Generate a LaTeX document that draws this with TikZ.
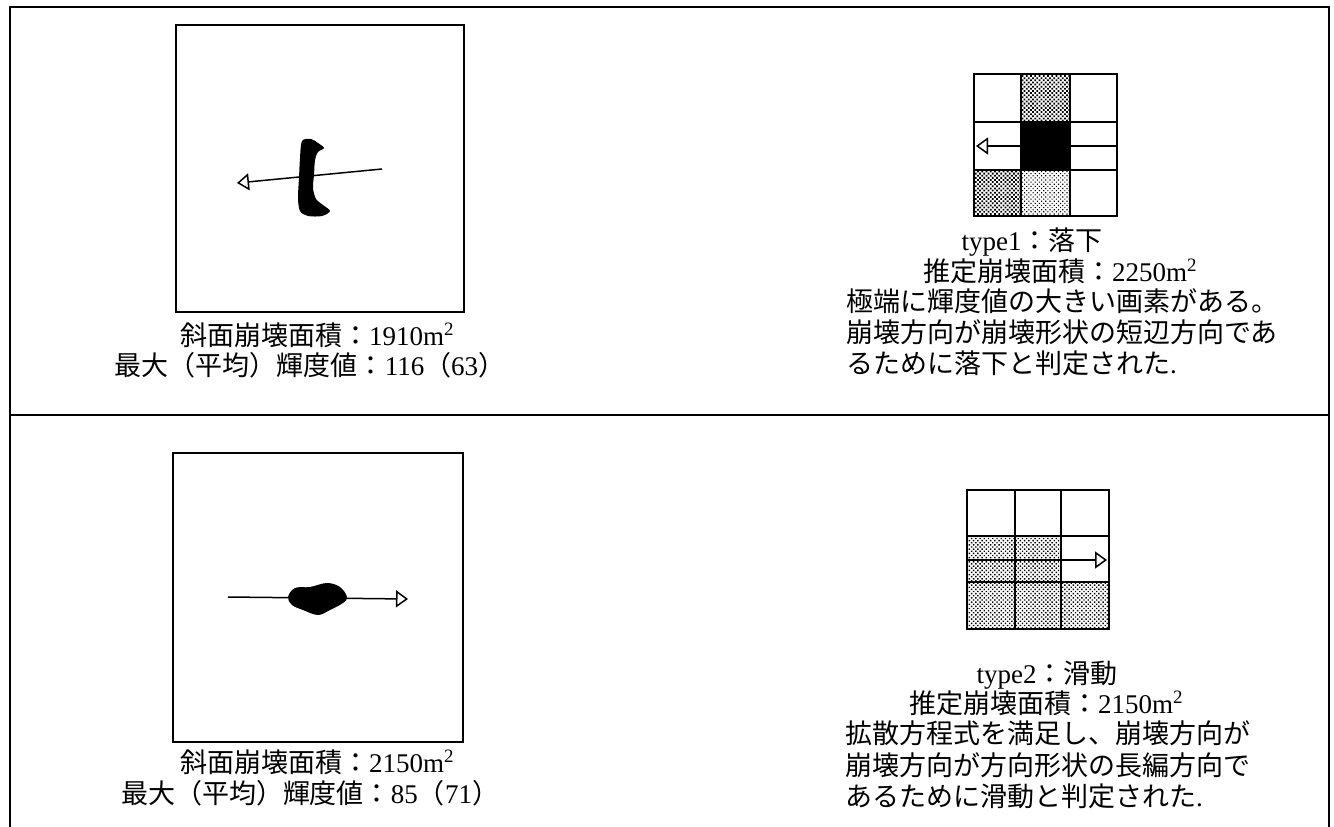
\documentclass[tikz,border=0pt]{standalone}
\usepackage{fontspec}
\setmainfont{Liberation Serif}
\newfontfamily\jpfont{Noto Sans CJK JP}
\newcommand\J[1]{{\jpfont #1}}
\usetikzlibrary{arrows.meta,patterns.meta}
\begin{document}
\begin{tikzpicture}[x=1pt,y=-1pt,
  frame/.style={line width=2pt},
  imgbox/.style={line width=1.5pt},
  cell/.style={draw,line width=2.4pt},
  dark/.style={pattern={Dots[distance=3pt,radius=1.25pt,angle=45]},pattern color=black},
  light/.style={pattern={Dots[distance=3pt,radius=0.8pt,angle=45]},pattern color=black},
  mid/.style={pattern={Dots[distance=3pt,radius=1.0pt,angle=45]},pattern color=black},
  dirarrow/.style={line width=1.5pt,-{Triangle[open,length=12pt,width=17pt]}},
  txt/.style={inner sep=0pt,font=\fontsize{27}{31}\selectfont},
]
\useasboundingbox (0,0) rectangle (1334,827);
\clip (0,0) rectangle (1334,827);
\fill[white] (0,0) rectangle (1334,827);

% outer frame
\draw[frame] (10,840) -- (10,7) -- (1329,7) -- (1329,840);
\draw[frame] (10,415) -- (1329,415);

% ---------- top row ----------
\draw[imgbox] (176,25) rectangle (464,312);
\fill[black] plot[smooth cycle,tension=0.5] coordinates {(302,141) (311,139) (318,143) (324,148) (318,152) (315,160) (314,175) (313,188) (316,199) (323,205) (330,211) (322,216) (308,216) (300,211) (298,198) (299,178) (300,158)};
\coordinate (a1s) at (382,169);
\coordinate (a1e) at (237,183);
\draw[dirarrow] (a1s) -- (a1e);

\node[txt,anchor=base] (t1a) at (317,345) {\J{斜面崩壊面積：}1910m\textsuperscript{2}};
\node[txt,anchor=base] (t1b) at (310,375) {\J{最大（平均）輝度値：}116\J{（}63\J{）}};

% grid 1
\path[cell,fill=white] (974,74) rectangle (1021,122);
\path[cell,dark] (1021,74) rectangle (1070,122);
\path[cell,fill=white] (1070,74) rectangle (1117,122);
\path[cell,fill=white] (974,122) rectangle (1021,170);
\path[cell,fill=black] (1021,122) rectangle (1070,170);
\path[cell,fill=white] (1070,122) rectangle (1117,170);
\path[cell,dark] (974,170) rectangle (1021,216);
\path[cell,light] (1021,170) rectangle (1070,216);
\path[cell,fill=white] (1070,170) rectangle (1117,216);
\coordinate (g1s) at (1117,146);
\coordinate (g1e) at (976,146);
\draw[dirarrow] (g1s) -- (g1e);

\node[txt,anchor=base] (r1a) at (1032,250) {type1\J{：落下}};
\node[txt,anchor=base] (r1b) at (1060,281) {\J{推定崩壊面積：}2250m\textsuperscript{2}};
\node[txt,anchor=base west] (r1c) at (846,311) {\J{極端に輝度値の大きい画素がある。}};
\node[txt,anchor=base west] (r1d) at (846,342) {\J{崩壊方向が崩壊形状の短辺方向であ}};
\node[txt,anchor=base west] (r1e) at (846,373) {\J{るために落下と判定された}.};

% ---------- bottom row ----------
\draw[imgbox] (173,453) rectangle (463,742);
\fill[black] plot[smooth cycle,tension=0.6] coordinates {(288,597) (295,588) (310,587) (327,583) (340,587) (347,597) (343,603) (330,610) (318,615) (303,610) (292,605)};
\coordinate (a2s) at (228,597);
\coordinate (a2e) at (408,599);
\draw[dirarrow] (a2s) -- (a2e);

\node[txt,anchor=base] (t2a) at (317,772) {\J{斜面崩壊面積：}2150m\textsuperscript{2}};
\node[txt,anchor=base] (t2b) at (310,803) {\J{最大（平均）輝度値：}85\J{（}71\J{）}};

% grid 2
\path[cell,fill=white] (967,490) rectangle (1015,536);
\path[cell,fill=white] (1015,490) rectangle (1061,536);
\path[cell,fill=white] (1061,490) rectangle (1109,536);
\path[cell,mid] (967,536) rectangle (1015,582);
\path[cell,mid] (1015,536) rectangle (1061,582);
\path[cell,fill=white] (1061,536) rectangle (1109,582);
\path[cell,mid] (967,582) rectangle (1015,629);
\path[cell,mid] (1015,582) rectangle (1061,629);
\path[cell,mid] (1061,582) rectangle (1109,629);
\coordinate (g2s) at (967,560);
\coordinate (g2e) at (1107,560);
\draw[dirarrow] (g2s) -- (g2e);

\node[txt,anchor=base] (r2a) at (1047,683) {type2\J{：滑動}};
\node[txt,anchor=base] (r2b) at (1046,713) {\J{推定崩壊面積：}2150m\textsuperscript{2}};
\node[txt,anchor=base west] (r2c) at (845,743) {\J{拡散方程式を満足し、崩壊方向が}};
\node[txt,anchor=base west] (r2d) at (845,775) {\J{崩壊方向が方向形状の長編方向で}};
\node[txt,anchor=base west] (r2e) at (845,806) {\J{あるために滑動と判定された}.};
\end{tikzpicture}
\end{document}
